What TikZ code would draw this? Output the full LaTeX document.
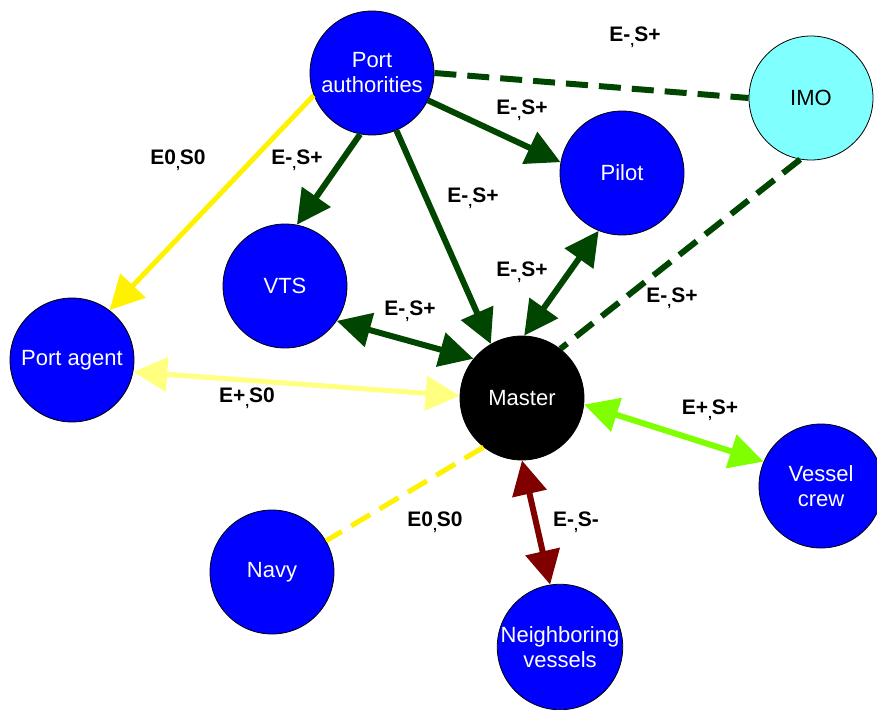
\documentclass[tikz,border=0pt]{standalone}
\usepackage{fontspec}
\setmainfont{Liberation Sans}
\usetikzlibrary{arrows.meta}
\definecolor{dgreen}{RGB}{0,70,0}
\definecolor{lyellow}{RGB}{255,255,128}
\definecolor{lime}{RGB}{128,255,0}
\definecolor{dred}{RGB}{128,0,0}
\definecolor{imocyan}{RGB}{128,255,255}
\newcommand\lowcomma{\raisebox{-4pt}{\fontsize{14}{14}\selectfont ,}}
\tikzset{
  actor/.style={circle, draw=black, line width=0.8pt, fill=blue, text=white, minimum size=124pt, inner sep=0pt, align=center, font=\fontsize{22}{25}\selectfont},
  rel/.style={line width=6pt},
  tip/.style={-{Triangle[length=34pt,width=34pt]}},
  both/.style={{Triangle[length=34pt,width=34pt]}-{Triangle[length=34pt,width=34pt]}},
  dash6/.style={dash pattern=on 22pt off 11pt},
  lab/.style={font=\fontsize{21}{21}\selectfont\bfseries, inner sep=0pt}
}
\begin{document}
\begin{tikzpicture}[x=1pt,y=-1pt]
\useasboundingbox (0,0) rectangle (877,709);
% nodes
\node[actor] (pa) at (372,73) {Port\\authorities};
\node[actor] (pilot) at (622,173) {Pilot};
\node[actor, fill=imocyan, text=black] (imo) at (811,98) {IMO};
\node[actor] (vts) at (285,286) {VTS};
\node[actor] (agent) at (72,360) {Port agent};
\node[actor, fill=black] (master) at (522,398) {Master};
\node[actor] (crew) at (821,486) {Vessel\\crew};
\node[actor] (navy) at (272,572) {Navy};
\node[actor] (neigh) at (560,647) {Neighboring\\vessels};
% connectors
\draw[rel, dgreen, dash6] (pa.0) -- (imo.180);
\draw[rel, dgreen, tip] (pa.-26) -- (pilot.170);
\draw[rel, dgreen, tip] (pa.-101) -- (vts.79);
\draw[rel, dgreen, tip] (pa.-67) -- (master.120);
\draw[rel, yellow, tip, line width=5pt] (pa.-159) -- (agent.53);
\draw[rel, dgreen, both] (pilot.-112) -- (master.88);
\draw[rel, dgreen, both] (vts.-34) -- (master.141);
\draw[rel, lyellow, both, line width=5pt] (agent.-11) -- (master.178);
\draw[rel, dgreen, dash6] (imo.-100) -- (master.52);
\draw[rel, lime, both] (master.-6) -- (crew.157);
\draw[rel, dred, both] (master.-90) -- (neigh.99);
\draw[rel, yellow, dash6, line width=5pt] (master.-128) -- (navy.30);
% labels
\node[lab] (l1) at (635,37) {E-\lowcomma S+};
\node[lab] (l2) at (522,110) {E-\lowcomma S+};
\node[lab] (l3) at (297,160) {E-\lowcomma S+};
\node[lab] (l4) at (473,198) {E-\lowcomma S+};
\node[lab] (l5) at (178,160) {E0\lowcomma S0};
\node[lab] (l6) at (522,272) {E-\lowcomma S+};
\node[lab] (l7) at (410,311) {E-\lowcomma S+};
\node[lab] (l8) at (247,398) {E+\lowcomma S0};
\node[lab] (l9) at (672,298) {E-\lowcomma S+};
\node[lab] (l10) at (710,410) {E+\lowcomma S+};
\node[lab] (l11) at (576,522) {E-\lowcomma S-};
\node[lab] (l12) at (435,522) {E0\lowcomma S0};
\end{tikzpicture}
\end{document}
